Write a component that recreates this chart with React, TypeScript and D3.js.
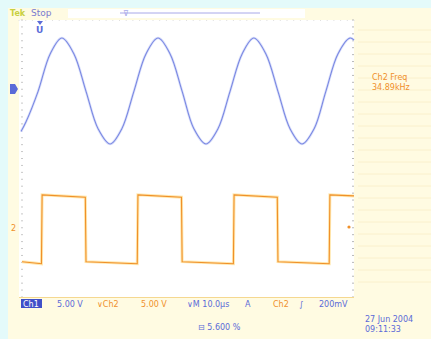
import React from "react";
import * as d3 from "d3";

// Ch1 (blue) samples: time in µs, voltage in V
const ch1Time = [0.6, 2.1, 5.7, 9.3, 12.8, 16.4, 20.0, 23.6, 27.2, 30.7, 34.3, 37.9, 41.5, 45.1, 48.7, 52.2, 55.8, 59.4, 63.0, 66.6, 70.1, 73.7, 77.3, 80.9, 84.5, 88.1, 91.6, 95.2, 98.8, 100];
const ch1Volt = [-6.1, -4.7, -0.3, 5.1, 7.4, 5.1, -0.3, -5.7, -7.9, -5.7, -0.3, 5.1, 7.4, 5.1, -0.3, -5.7, -7.9, -5.7, -0.3, 5.1, 7.4, 5.1, -0.3, -5.7, -7.9, -5.7, -0.3, 5.1, 7.4, 7.1];

// Ch2 (orange) samples
const ch2Time = [0.9, 6.7, 6.9, 19.8, 20.0, 35.3, 35.5, 48.5, 48.7, 64.0, 64.2, 77.1, 77.3, 92.6, 92.8, 100];
const ch2Volt = [-4.9, -5.2, 4.75, 4.4, -4.9, -5.2, 4.75, 4.4, -4.9, -5.2, 4.75, 4.4, -4.9, -5.2, 4.75, 4.6];

const ch1Offset = 2; // divisions
const ch2Offset = -2;
const voltsPerDiv = 5;

const topLabels = ["Tek", "Stop"];
const bottomLabels = ["Ch1", "5.00 V", "\u2228Ch2", "5.00 V", "\u2228M 10.0\u00b5s", "A", "Ch2", "\u222b", "200mV"];
const measLabels = ["Ch2 Freq", "34.89kHz"];
const dateLabels = ["27 Jun  2004", "09:11:33"];
const zoomLabel = "\u229f 5.600 %";

export default function App() {
  const W = 431, H = 339;
  const x = d3.scaleLinear().domain([0, 100]).range([19, 354]);
  const y = d3.scaleLinear().domain([-4, 4]).range([297, 20]);

  const line1 = d3.line<number>()
    .x((_, i) => x(ch1Time[i]))
    .y((v) => y(v / voltsPerDiv + ch1Offset))
    .curve(d3.curveCatmullRom.alpha(0.5));
  const line2 = d3.line<number>()
    .x((_, i) => x(ch2Time[i]))
    .y((v) => y(v / voltsPerDiv + ch2Offset));

  const minorY = d3.range(-4, 4.001, 0.2);
  const minorX = d3.range(0, 10.001, 0.2);
  const font = "'DejaVu Sans', sans-serif";
  const blue = "#5a6ad8";
  const orange = "#f0902a";

  const bx = [22, 56, 96, 140, 186, 244, 272, 298, 318];
  const bcol = ["#fff", blue, orange, orange, blue, blue, orange, blue, blue];

  return (
    <svg width={W} height={H} style={{ position: "absolute", left: 0, top: 0 }}>
      <rect x={0} y={0} width={W} height={H} fill="#e4fafa" />
      <rect x={8} y={8} width={W - 8} height={H - 8} fill="#fffbe2" />
      {/* right panel ghost grid */}
      {d3.range(0, 22).map((i) => (
        <line key={"rg" + i} x1={358} x2={431} y1={30 + i * 12} y2={30 + i * 12} stroke="#faf0cc" strokeWidth={1} />
      ))}
      {/* top bar */}
      <rect x={68} y={9} width={50} height={9} fill="#ffffff" />
      <rect x={118} y={9} width={187} height={9} fill="#ffffff" />
      <line x1={120} x2={260} y1={13} y2={13} stroke="#a8a8e8" strokeWidth={1} />
      <text x={123} y={16} fontSize={8} fill="#a8a8e8" fontFamily={font}>{"\u22bd"}</text>
      <text x={10} y={16} fontSize={8} fill="#c8d040" fontFamily={font} fontWeight="bold">{topLabels[0]}</text>
      <text x={31} y={16} fontSize={9} fill="#7a7ad0" fontFamily={font}>{topLabels[1]}</text>
      {/* plot area */}
      <rect x={19} y={20} width={335} height={277} fill="#ffffff" />
      {minorY.map((d, i) => (
        <g key={"my" + i}>
          <line x1={21} x2={23} y1={y(d)} y2={y(d)} stroke="#c8c8c8" />
          <line x1={352} x2={354} y1={y(d)} y2={y(d)} stroke="#b8b8b8" />
        </g>
      ))}
      {minorX.map((d, i) => (
        <line key={"mx" + i} x1={x(d * 10)} x2={x(d * 10)} y1={20} y2={21} stroke="#e0e0e0" />
      ))}
      <line x1={19} x2={354} y1={297.5} y2={297.5} stroke="#f5d890" />
      {/* markers */}
      <path d="M37,21 L43,21 L40,25 Z" fill={blue} />
      <text x={36} y={33} fontSize={9} fill={blue} fontFamily={font} fontWeight="bold">U</text>
      <path d="M10,84 L15,84 L18,89 L15,94 L10,94 Z" fill={blue} />
      <text x={11} y={231} fontSize={8} fill={orange} fontFamily={font}>2</text>
      <circle cx={349} cy={227} r={1.6} fill={orange} />
      {/* traces */}
      <path d={line1(ch1Volt) || ""} fill="none" stroke="#dde2fb" strokeWidth={2.6} />
      <path d={line1(ch1Volt) || ""} fill="none" stroke="#7a88e2" strokeWidth={1.1} />
      <path d={line2(ch2Volt) || ""} fill="none" stroke="#ffe8b0" strokeWidth={3} />
      <path d={line2(ch2Volt) || ""} fill="none" stroke={orange} strokeWidth={1.1} />
      {/* bottom bar */}
      <rect x={21} y={299} width={21} height={9} fill="#4050c8" />
      {bottomLabels.map((t, i) => (
        <text key={"b" + i} x={bx[i] + 1} y={306.5} fontSize={8} fill={bcol[i]} fontFamily={font}>{t}</text>
      ))}
      <text x={198} y={330} fontSize={8} fill={blue} fontFamily={font}>{zoomLabel}</text>
      <text x={365} y={322} fontSize={8} fill={blue} fontFamily={font}>{dateLabels[0]}</text>
      <text x={365} y={332} fontSize={8} fill={blue} fontFamily={font}>{dateLabels[1]}</text>
      <text x={372} y={80} fontSize={8} fill={orange} fontFamily={font}>{measLabels[0]}</text>
      <text x={372} y={90} fontSize={8} fill={orange} fontFamily={font}>{measLabels[1]}</text>
    </svg>
  );
}
